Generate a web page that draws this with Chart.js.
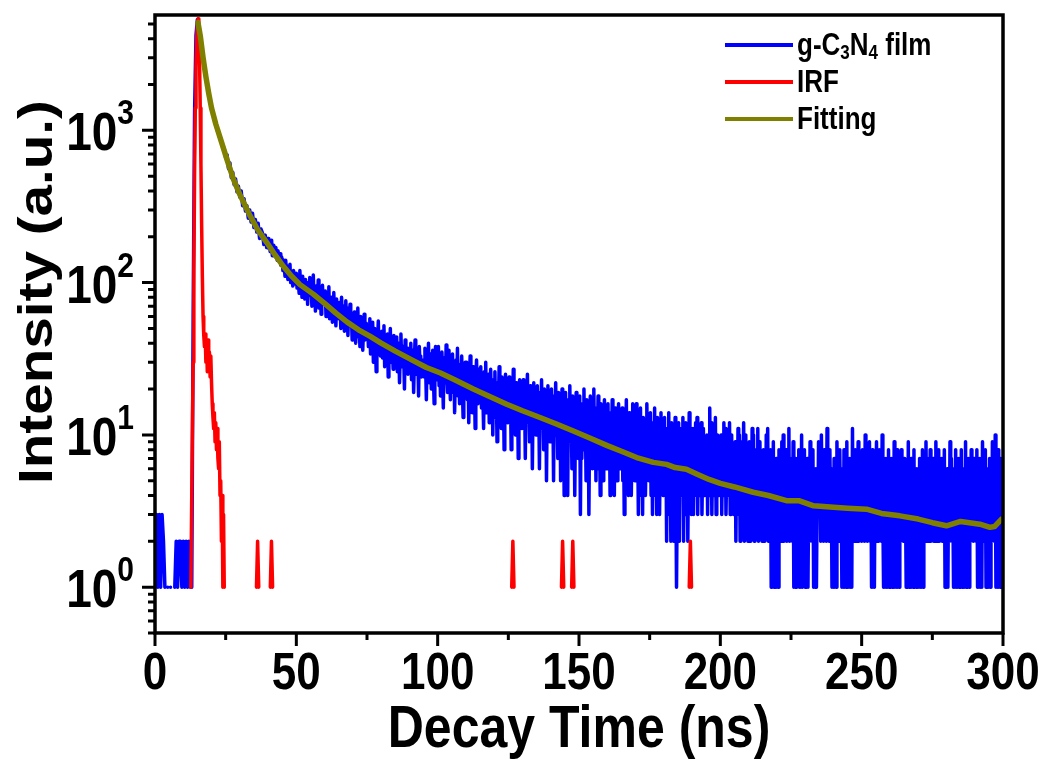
<!DOCTYPE html>
<html><head><meta charset="utf-8">
<script src="https://cdn.jsdelivr.net/npm/chart.js@4/dist/chart.umd.min.js"></script>
<style>html,body{margin:0;padding:0;background:#fff;} #c{display:block;}</style>
</head><body>
<canvas id="c" width="1047" height="761"></canvas>
<script>
// ---- data ----
// measured decay, early part: 0 .. 39.5 ns every 0.5 ns (null = zero counts)
const blueEarlyStart = 0, blueEarlyStep = 0.5;
const blueEarlyCounts = [
1,3,1,3,1,3,2,1,null,1,null,1,null,null,1,2,1,2,2,1,
2,1,2,1,2,1,1,60,1300,4200,5350,4800,4100,3450,3000,2580,2260,1960,1760,1570,
1390,1300,1170,1120,1000,980,880,850,780,760,660,690,560,610,490,530,440,480,395,430,
365,400,320,355,295,320,265,300,250,285,230,260,215,245,195,225,212,178,205,170
];
// measured decay, late part: 40 .. 300 ns every 0.25 ns
const blueLateStart = 40, blueLateStep = 0.25;
const blueLateCounts = [
195,168,182,160,172,190,150,165,176,158,148,170,152,140,162,145,138,155,130,148,
142,120,135,125,110,140,118,128,105,122,115,132,100,118,108,95,120,110,98,112,
115,92,108,98,85,120,95,102,80,110,90,96,78,105,88,100,72,94,86,108,
82,98,70,90,112,78,88,65,95,84,75,104,68,86,92,62,80,96,72,85,
76,88,60,70,82,66,94,58,74,68,80,55,72,86,62,68,52,78,64,70,
58,74,66,50,80,60,55,70,48,64,76,57,62,45,68,58,72,52,60,42,
56,46,64,50,40,58,48,68,44,52,38,60,47,55,36,50,62,42,48,54,
44,52,38,48,58,34,46,40,55,30,44,50,38,26,47,42,56,36,44,33,
42,48,32,38,52,28,44,36,40,46,24,38,34,50,30,42,36,27,45,33,
38,30,44,26,36,40,22,34,46,31,28,38,33,20,42,35,29,37,25,33,
34,27,40,23,32,36,19,30,42,28,25,35,31,18,38,29,33,24,30,26,
31,24,37,28,17,33,26,40,22,29,34,20,27,36,24,16,30,38,23,28,
27,38,21,30,18,26,35,24,15,32,28,22,39,25,19,29,36,23,17,27,
24,34,19,28,14,26,31,21,37,18,25,16,29,23,33,20,13,27,22,30,
22,30,17,26,12,24,33,19,21,14,28,18,25,11,23,31,20,16,27,19,
21,28,15,24,18,11,26,20,30,14,22,17,25,12,19,27,16,21,10,23,
18,26,13,20,9,22,16,28,14,19,11,24,17,21,8,18,25,15,20,12,
17,24,12,19,8,21,15,27,13,18,10,22,16,20,7,17,23,14,19,11,
16,23,11,18,7,20,14,25,12,17,9,21,15,19,6,16,22,13,18,10,
15,21,10,17,6,19,13,23,11,16,8,20,14,18,5,15,21,12,17,9,
14,20,9,16,5,18,12,22,10,15,7,19,13,17,5,14,20,11,16,4,
13,19,8,15,4,17,11,21,9,14,6,18,12,16,4,13,19,10,15,7,
12,18,3,14,7,16,10,20,8,13,5,17,11,15,3,12,18,9,14,6,
11,20,7,13,5,15,9,18,6,12,4,16,10,14,5,11,17,8,13,6,
10,16,6,12,4,14,8,17,5,11,4,15,9,13,5,10,16,7,12,6,
9,15,5,11,3,13,8,17,5,10,4,14,8,12,4,9,16,6,11,5,
8,16,5,10,3,12,7,15,4,9,3,13,7,11,4,8,16,6,10,5,
8,14,4,10,3,12,6,15,4,9,3,13,7,11,3,8,14,5,10,4,
7,13,4,9,2,11,6,14,3,8,2,12,6,10,2,7,13,5,1,4,
7,12,2,9,4,11,6,13,2,8,3,12,5,10,2,7,14,4,9,3,
6,11,3,8,4,12,5,13,3,8,4,10,6,12,3,7,11,4,9,5,
6,10,3,8,4,15,5,12,3,7,4,11,6,13,3,7,10,4,9,5,
5,10,3,7,4,12,5,11,3,6,4,9,5,12,3,6,10,4,8,3,
5,9,2,7,3,11,4,10,2,6,3,9,5,12,2,6,10,3,8,2,
4,9,2,6,3,11,4,10,2,6,3,8,5,11,2,5,9,3,7,2,
4,8,2,6,3,10,4,11,2,5,3,8,1,6,2,9,1,5,1,7,
1,6,1,8,3,5,2,9,4,10,2,6,3,8,2,5,3,11,2,7,
3,6,2,9,1,5,1,7,1,4,2,8,1,5,1,10,1,6,2,8,
1,5,1,7,1,4,2,9,3,6,2,8,1,5,1,6,1,4,3,9,
3,7,2,10,4,6,2,8,3,5,2,11,3,6,2,8,3,5,1,6,
1,7,1,5,1,9,3,6,2,8,3,5,1,6,1,8,1,4,1,9,
1,5,1,7,1,4,1,11,2,6,3,8,2,5,3,9,2,6,3,7,
2,8,3,5,2,10,4,6,2,7,3,9,2,6,1,8,1,5,1,6,
3,9,2,6,2,8,3,5,2,10,3,1,6,1,7,1,4,1,8,1,
5,1,7,1,4,1,9,1,6,1,8,1,5,1,6,2,8,3,5,2,
7,2,4,1,6,1,9,1,5,1,7,1,4,1,8,1,5,1,6,1,
4,1,7,1,5,1,8,1,3,6,2,9,3,5,2,7,3,8,2,6,
3,7,2,5,2,9,3,6,2,8,2,5,3,7,2,6,3,8,1,4,
1,6,1,5,2,9,3,7,2,4,1,6,1,8,1,5,1,7,1,4,
1,8,1,5,1,6,1,9,1,4,1,7,1,5,2,8,3,6,2,7,
3,6,2,8,1,5,1,7,1,4,1,9,2,6,3,8,1,5,1,6,
1,7,1,5,2,9,3,6,2,10,1,6,1,8,1,5,1,7,1,6,
7
];
const irfTime = [12.7,13,13.25,13.5,13.75,14,14.25,14.5,14.75,15,15.25,15.5,15.75,16,16.25,16.5,16.75,17,17.25,17.5,17.75,18,18.25,18.5,18.75,19,19.25,19.5,19.75,20,20.25,20.5,20.75,21,21.25,21.5,21.75,22,22.25,22.5,22.75,23,23.25,23.5,23.75,24,24.25,24.5,
  25,
  35.9,36.3,36.7, 37,
  40.8,41.2,41.6, 42,
  126.2,126.6,127, 127.3,
  143.8,144.2,144.6, 145,
  147.4,147.8,148.2, 148.5,
  189,189.4,189.8];
const irfCount = [1,4,12,30,120,500,1400,2600,4000,5100,5400,4900,3000,1400,600,240,110,60,45,38,46,30,40,26,42,27,35,24,33,22,16,13,11,14,9,12,8,11,7,6,9,4,5,2,4,1,3,1,
  null,
  1,2,1, null,
  1,2,1, null,
  1,2,1, null,
  1,2,1, null,
  1,2,1, null,
  1,2,1];
const fitTime = [15.2,16,17,18,19,20,21.5,23.5,25.5,27.7,30,33.6,36.5,39.5,42.5,45.4,48,51.3,56,60,64,68,72,76,80,85,91,96,101,106,112.6,118,124.4,130,136.2,142,148,154,160,165,170.4,176.3,181,184,188,192,196,200,205,211.6,217,223.4,228,233,240,245,251.7,257,263.5,270,275,280,285,291.8,295.4,297,299.5];
const fitCount = [5100,4200,3000,2250,1750,1400,1100,840,640,480,380,275,220,184,152,128,112,97,84,73,63,55,49,44.5,40,35.5,31,27.7,25.5,23,20,18,15.9,14.4,13,11.8,10.6,9.5,8.5,7.8,7.1,6.6,6.4,6.1,5.95,5.5,5.1,4.8,4.55,4.2,4.0,3.7,3.69,3.42,3.35,3.3,3.25,3.05,2.94,2.8,2.65,2.53,2.7,2.59,2.47,2.5,2.8];
const xTickValues = [0,50,100,150,200,250,300];
const xMinorTickValues = [25,75,125,175,225,275];
const yDecades = [0,1,2,3];
const xTitle = 'Decay Time (ns)';
const yTitle = 'Intensity (a.u.)';
const legendItems = [
  {parts: [['g-C',false],['3',true],['N',false],['4',true],[' film',false]], color: '#0000FF'},
  {parts: [['IRF',false]], color: '#FF0000'},
  {parts: [['Fitting',false]], color: '#808000'}
];

// ---- build ----
const FF = '"Liberation Sans", Arial, sans-serif';
const STRETCH = 1.18; // glyphs in the figure are taller than wide
const blueData = blueEarlyCounts.map((v, i) => ({x: blueEarlyStart + i * blueEarlyStep, y: v}))
  .concat(blueLateCounts.map((v, i) => ({x: blueLateStart + i * blueLateStep, y: v})));
const irfData = irfTime.map((t, i) => ({x: t, y: irfCount[i]}));
const fitData = fitTime.map((t, i) => ({x: t, y: fitCount[i]}));

function txt(ctx, s, x, y, font, align, rotated) {
  ctx.save();
  ctx.font = font;
  ctx.textAlign = align;
  ctx.textBaseline = 'alphabetic';
  ctx.translate(x, y);
  if (rotated) { ctx.rotate(-Math.PI / 2); ctx.scale(STRETCH, 1); }
  else { ctx.scale(1, STRETCH); }
  ctx.fillText(s, 0, 0);
  ctx.restore();
}

const decor = {
  id: 'decor',
  afterDraw(chart) {
    const {ctx, chartArea: a, scales: {x, y}} = chart;
    ctx.save();
    ctx.strokeStyle = '#000';
    ctx.lineCap = 'butt';
    ctx.lineWidth = 3;
    ctx.beginPath();
    for (let d = -1; d <= 3; d++) {
      for (let m = 1; m <= 9; m++) {
        const v = m * Math.pow(10, d);
        if (v < y.min - 1e-9 || v > y.max) continue;
        const py = y.getPixelForValue(v);
        const len = m === 1 ? 13 : 7;
        ctx.moveTo(a.left, py); ctx.lineTo(a.left - len, py);
      }
    }
    xTickValues.forEach(v => { const px = x.getPixelForValue(v); ctx.moveTo(px, a.bottom); ctx.lineTo(px, a.bottom + 13); });
    xMinorTickValues.forEach(v => { const px = x.getPixelForValue(v); ctx.moveTo(px, a.bottom); ctx.lineTo(px, a.bottom + 7); });
    ctx.stroke();
    ctx.lineWidth = 3.5;
    ctx.strokeRect(a.left, a.top, a.right - a.left, a.bottom - a.top);

    ctx.fillStyle = '#000';
    xTickValues.forEach(v => txt(ctx, String(v), x.getPixelForValue(v), a.bottom + 56, 'bold 44px ' + FF, 'center'));
    yDecades.forEach(d => {
      const py = y.getPixelForValue(Math.pow(10, d));
      ctx.font = 'bold 30px ' + FF;
      const sw = ctx.measureText(String(d)).width;
      ctx.font = 'bold 46px ' + FF;
      const bw = ctx.measureText('10').width;
      const right = a.left - 21;
      txt(ctx, '10', right - sw - bw, py + 20, 'bold 46px ' + FF, 'left');
      txt(ctx, String(d), right - sw, py - 6, 'bold 30px ' + FF, 'left');
    });
    txt(ctx, xTitle, (a.left + a.right) / 2, 747, 'bold 50px ' + FF, 'center');
    txt(ctx, yTitle, 52, 292, 'bold 48px ' + FF, 'center', true);

    const lx0 = 725, lx1 = 793, ly0 = 45, dy = 37;
    legendItems.forEach((it, k) => {
      const ly = ly0 + k * dy;
      ctx.strokeStyle = it.color;
      ctx.lineWidth = 4;
      ctx.beginPath(); ctx.moveTo(lx0, ly); ctx.lineTo(lx1, ly); ctx.stroke();
      let tx = lx1 + 4;
      it.parts.forEach(([s, sub]) => {
        const f = (sub ? 'bold 17px ' : 'bold 26px ') + FF;
        txt(ctx, s, tx, ly + (sub ? 14 : 10), f, 'left');
        ctx.font = f;
        tx += ctx.measureText(s).width;
      });
    });
    ctx.restore();
  }
};

new Chart(document.getElementById('c'), {
  type: 'line',
  data: {
    datasets: [
      {label: 'g-C3N4 film', data: blueData, borderColor: '#0000FF', borderWidth: 3.5, pointRadius: 0, order: 3,
       borderJoinStyle: 'round', borderCapStyle: 'round', tension: 0, spanGaps: false},
      {label: 'IRF', data: irfData, borderColor: '#FF0000', borderWidth: 3.5, pointRadius: 0, order: 2,
       borderJoinStyle: 'round', borderCapStyle: 'round', tension: 0, spanGaps: false},
      {label: 'Fitting', data: fitData, borderColor: '#808000', borderWidth: 5.5, pointRadius: 0, order: 1,
       borderJoinStyle: 'round', borderCapStyle: 'round', tension: 0}
    ]
  },
  options: {
    responsive: false,
    animation: false,
    devicePixelRatio: 1,
    layout: {padding: {top: 15, right: 44, left: 0, bottom: 0}},
    plugins: {legend: {display: false}, tooltip: {enabled: false}},
    scales: {
      x: {type: 'linear', min: 0, max: 300,
          ticks: {display: false}, grid: {display: false}, border: {display: false},
          afterFit: s => { s.height = 128; }},
      y: {type: 'logarithmic', min: 0.5, max: 5720,
          ticks: {display: false}, grid: {display: false}, border: {display: false},
          afterFit: s => { s.width = 155; }}
    }
  },
  plugins: [decor]
});
</script>
</body></html>
